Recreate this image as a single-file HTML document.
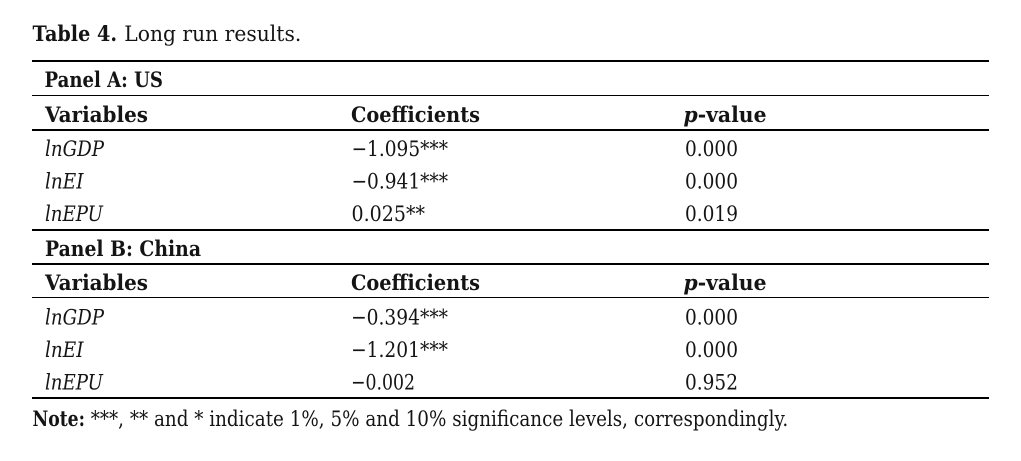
<!DOCTYPE html>
<html>
<head>
<meta charset="utf-8">
<style>
  html, body { margin: 0; padding: 0; background: #ffffff; }
  svg { display: block; }
  text { font-family: "DejaVu Serif", "Liberation Serif", serif; fill: #141414; font-size: 21.5px; }
  .b { font-weight: bold; }
  .i { font-style: italic; }
</style>
</head>
<body>
<svg width="1021" height="461" viewBox="0 0 1021 461" xmlns="http://www.w3.org/2000/svg">
  <rect x="0" y="0" width="1021" height="461" fill="#ffffff"/>

  <!-- Title -->
  <text class="b" x="32.5" y="41" textLength="84.5" lengthAdjust="spacingAndGlyphs">Table 4.</text>
  <text x="124.3" y="41" textLength="177" lengthAdjust="spacingAndGlyphs">Long run results.</text>

  <!-- Rules -->
  <rect x="32" y="60" width="957" height="2" fill="#000"/>
  <rect x="32" y="95" width="957" height="1" fill="#000"/>
  <rect x="32" y="129" width="957" height="2" fill="#000"/>
  <rect x="32" y="229" width="957" height="2" fill="#000"/>
  <rect x="32" y="263" width="957" height="2" fill="#000"/>
  <rect x="32" y="297" width="957" height="1" fill="#000"/>
  <rect x="32" y="397" width="957" height="2" fill="#000"/>

  <!-- Panel A -->
  <text class="b" x="44.5" y="87" textLength="118.5" lengthAdjust="spacingAndGlyphs">Panel A: US</text>
  <text class="b" x="45" y="122" textLength="103" lengthAdjust="spacingAndGlyphs">Variables</text>
  <text class="b" x="351" y="122" textLength="129" lengthAdjust="spacingAndGlyphs">Coefficients</text>
  <text class="b" x="683.5" y="122" textLength="83" lengthAdjust="spacingAndGlyphs"><tspan class="i">p</tspan>-value</text>

  <text class="i" x="45" y="156" textLength="59" lengthAdjust="spacingAndGlyphs">lnGDP</text>
  <text x="351.5" y="156" textLength="96.5" lengthAdjust="spacingAndGlyphs">−1.095***</text>
  <text x="685" y="156" textLength="53" lengthAdjust="spacingAndGlyphs">0.000</text>

  <text class="i" x="45" y="188.5" textLength="38.5" lengthAdjust="spacingAndGlyphs">lnEI</text>
  <text x="351.5" y="188.5" textLength="96.5" lengthAdjust="spacingAndGlyphs">−0.941***</text>
  <text x="685" y="188.5" textLength="53" lengthAdjust="spacingAndGlyphs">0.000</text>

  <text class="i" x="45" y="221" textLength="58" lengthAdjust="spacingAndGlyphs">lnEPU</text>
  <text x="351.5" y="221" textLength="73.5" lengthAdjust="spacingAndGlyphs">0.025**</text>
  <text x="685" y="221" textLength="53" lengthAdjust="spacingAndGlyphs">0.019</text>

  <!-- Panel B -->
  <text class="b" x="45" y="256" textLength="156" lengthAdjust="spacingAndGlyphs">Panel B: China</text>
  <text class="b" x="45" y="290" textLength="103" lengthAdjust="spacingAndGlyphs">Variables</text>
  <text class="b" x="351" y="290" textLength="129" lengthAdjust="spacingAndGlyphs">Coefficients</text>
  <text class="b" x="683.5" y="290" textLength="83" lengthAdjust="spacingAndGlyphs"><tspan class="i">p</tspan>-value</text>

  <text class="i" x="45" y="324.5" textLength="59" lengthAdjust="spacingAndGlyphs">lnGDP</text>
  <text x="351" y="324.5" textLength="97" lengthAdjust="spacingAndGlyphs">−0.394***</text>
  <text x="685" y="324.5" textLength="53" lengthAdjust="spacingAndGlyphs">0.000</text>

  <text class="i" x="45" y="357" textLength="38.5" lengthAdjust="spacingAndGlyphs">lnEI</text>
  <text x="351" y="357" textLength="97" lengthAdjust="spacingAndGlyphs">−1.201***</text>
  <text x="685" y="357" textLength="53" lengthAdjust="spacingAndGlyphs">0.000</text>

  <text class="i" x="45" y="389.5" textLength="58" lengthAdjust="spacingAndGlyphs">lnEPU</text>
  <text x="351" y="389.5" textLength="64" lengthAdjust="spacingAndGlyphs">−0.002</text>
  <text x="685" y="389.5" textLength="53" lengthAdjust="spacingAndGlyphs">0.952</text>

  <!-- Note -->
  <text class="b" x="32.5" y="426" textLength="52.5" lengthAdjust="spacingAndGlyphs">Note:</text>
  <text x="90.7" y="426" textLength="697.5" lengthAdjust="spacingAndGlyphs">***, ** and * indicate 1%, 5% and 10% significance levels, correspondingly.</text>
</svg>
</body>
</html>
